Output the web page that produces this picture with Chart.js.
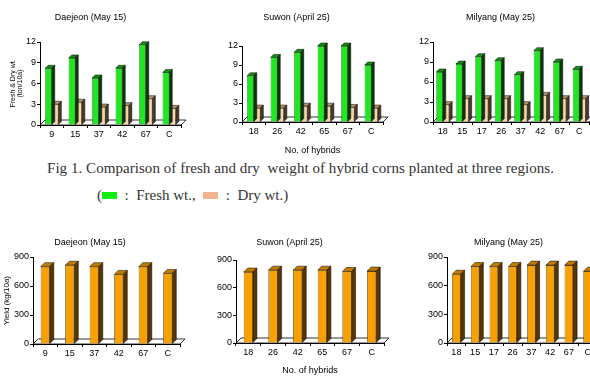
<!DOCTYPE html>
<html>
<head>
<meta charset="utf-8">
<script src="https://cdn.jsdelivr.net/npm/chart.js@4.4.0/dist/chart.umd.min.js"></script>
<style>
  html, body { margin: 0; padding: 0; background: #fff; overflow: hidden; width: 590px; height: 382px; position: relative; }
  .box { position: absolute; }
  .cap { position: absolute; font-family: "Liberation Serif", "DejaVu Serif", serif; color: #333; white-space: pre; }
  .sw { display: inline-block; width: 15px; height: 7px; vertical-align: 1px; }
</style>
</head>
<body>
<div class="box" style="left:0;top:0;width:194px;height:140px"><canvas id="freshDaejeon"></canvas></div>
<div class="box" style="left:210px;top:0;width:196px;height:160px"><canvas id="freshSuwon"></canvas></div>
<div class="box" style="left:412px;top:0;width:180px;height:140px"><canvas id="freshMilyang"></canvas></div>

<div class="cap" style="left:47px;top:160px;font-size:15px;letter-spacing:0.05px">Fig 1. Comparison of fresh and dry  weight of hybrid corns planted at three regions.</div>
<div class="cap" style="left:97px;top:187px;font-size:15px">(<span class="sw" style="background:#11ee11"></span>  :  Fresh wt.,  <span class="sw" style="background:#f2b48e"></span>  :  Dry wt.)</div>

<div class="box" style="left:0;top:225px;width:214px;height:135px"><canvas id="yieldDaejeon"></canvas></div>
<div class="box" style="left:195px;top:225px;width:240px;height:157px"><canvas id="yieldSuwon"></canvas></div>
<div class="box" style="left:420px;top:225px;width:212px;height:135px"><canvas id="yieldMilyang"></canvas></div>

<script>
// hybrid numbers per region
const daejeonHybrids = ["9", "15", "37", "42", "67", "C"];
const suwonHybrids = ["18", "26", "42", "65", "67", "C"];
const milyangHybrids = ["18", "15", "17", "26", "37", "42", "67", "C"];

// fresh and dry weight (ton/10a)
const daejeonFresh = [8.2, 9.7, 6.8, 8.2, 11.6, 7.6];
const daejeonDry = [3.0, 3.3, 2.6, 2.8, 3.8, 2.4];
const suwonFresh = [7.3, 10.2, 11.0, 12.0, 12.0, 9.0];
const suwonDry = [2.2, 2.2, 2.5, 2.5, 2.3, 2.2];
const milyangFresh = [7.5, 8.7, 9.8, 9.2, 7.1, 10.7, 9.0, 7.9];
const milyangDry = [2.6, 3.5, 3.5, 3.5, 2.6, 4.0, 3.5, 3.5];

// yield (kg/10a)
const daejeonYield = [800, 815, 800, 720, 800, 730];
const suwonYield = [770, 790, 790, 790, 775, 780];
const milyangYield = [720, 800, 800, 800, 815, 815, 815, 750];

const weightTicks = { max: 12, step: 3 };
const yieldTicks = { max: 900, step: 300 };

Chart.defaults.font.family = "'Liberation Sans', Arial, sans-serif";
Chart.defaults.font.size = 9;
Chart.defaults.color = "#000";

// fake 3D look: floor under the bars, top and side faces on each bar
const depth3d = {
  id: "depth3d",
  beforeDatasetsDraw(chart, args, opts) {
    const { ctx, chartArea: a } = chart;
    const d = opts.floor;
    ctx.save();
    ctx.beginPath();
    ctx.moveTo(a.left, a.bottom);
    ctx.lineTo(a.right, a.bottom);
    ctx.lineTo(a.right + d, a.bottom - d);
    ctx.lineTo(a.left + d, a.bottom - d);
    ctx.closePath();
    ctx.fillStyle = "#fff";
    ctx.fill();
    ctx.strokeStyle = "#000";
    ctx.lineWidth = 0.8;
    ctx.stroke();
    ctx.restore();
  },
  afterDatasetDraw(chart, args, opts) {
    const ds = chart.data.datasets[args.index];
    const d = opts.depth;
    const ctx = chart.ctx;
    ctx.save();
    ctx.strokeStyle = "#000";
    ctx.lineWidth = 0.5;
    args.meta.data.forEach((bar) => {
      const { x, y, base, width } = bar.getProps(["x", "y", "base", "width"], true);
      const l = x - width / 2;
      const r = x + width / 2;
      ctx.beginPath();
      ctx.moveTo(l, y);
      ctx.lineTo(l + d, y - d);
      ctx.lineTo(r + d, y - d);
      ctx.lineTo(r, y);
      ctx.closePath();
      ctx.fillStyle = ds.topColor;
      ctx.fill();
      ctx.stroke();
      ctx.beginPath();
      ctx.moveTo(r, y);
      ctx.lineTo(r + d, y - d);
      ctx.lineTo(r + d, base - d);
      ctx.lineTo(r, base);
      ctx.closePath();
      ctx.fillStyle = ds.sideColor;
      ctx.fill();
      ctx.stroke();
    });
    ctx.restore();
  },
};

function freshSets(fresh, dry) {
  return [
    { data: fresh, backgroundColor: "#1ee81e", borderColor: "#000", borderWidth: 0.5,
      topColor: "#129212", sideColor: "#0a3a0a" },
    { data: dry, backgroundColor: "#fbd5a8", borderColor: "#222", borderWidth: 0.5,
      topColor: "#b8926a", sideColor: "#4a3a28" },
  ];
}

function yieldSets(values) {
  return [
    { data: values, backgroundColor: "#f7a000", borderColor: "#000", borderWidth: 0.6,
      topColor: "#c07a00", sideColor: "#5a3500" },
  ];
}

function panel(id, p) {
  new Chart(document.getElementById(id), {
    type: "bar",
    data: { labels: p.labels, datasets: p.datasets },
    plugins: [depth3d],
    options: {
      responsive: true,
      maintainAspectRatio: false,
      animation: false,
      layout: { padding: { left: 0, right: p.padRight, top: 0, bottom: 0 } },
      datasets: { bar: { categoryPercentage: p.cat, barPercentage: 1 } },
      plugins: {
        legend: { display: false },
        tooltip: { enabled: false },
        title: {
          display: true,
          text: p.title,
          font: { size: 9, weight: "normal" },
          color: "#000",
          padding: { top: 12.6, bottom: p.titleGap },
        },
        depth3d: { depth: p.depth, floor: 5 },
      },
      scales: {
        x: {
          grid: { drawOnChartArea: false, tickLength: 3, color: "#000" },
          border: { color: "#000" },
          ticks: { padding: 1, autoSkip: false, maxRotation: 0, font: { size: 9 } },
          title: p.xTitle
            ? { display: true, text: p.xTitle, font: { size: 9 }, padding: { top: 0, bottom: p.xTitlePad } }
            : { display: false },
          afterFit(s) { s.height = p.axisH; },
        },
        y: {
          min: 0,
          max: p.ticks.max,
          grid: { drawOnChartArea: false, tickLength: 3, color: "#000" },
          border: { color: "#000" },
          ticks: { stepSize: p.ticks.step, padding: 1, font: { size: 9 } },
          title: p.yTitle
            ? { display: true, text: p.yTitle, font: { size: p.yTitleSize, lineHeight: 1 }, padding: { top: p.yTitlePad, bottom: 0 } }
            : { display: false },
          afterFit(s) { s.width = p.axisW; },
        },
      },
    },
  });
}

panel("freshDaejeon", {
  title: "Daejeon (May 15)", labels: daejeonHybrids, datasets: freshSets(daejeonFresh, daejeonDry),
  ticks: weightTicks, yTitle: ["Fresh & Dry wt.", "(ton/10a)"], yTitleSize: 7, yTitlePad: 9.5,
  axisW: 40, axisH: 15, padRight: 13, titleGap: 18.6, cat: 0.56, depth: 3,
});
panel("freshSuwon", {
  title: "Suwon (April 25)", labels: suwonHybrids, datasets: freshSets(suwonFresh, suwonDry),
  ticks: weightTicks, xTitle: "No. of hybrids", xTitlePad: 3.6,
  axisW: 32, axisH: 38, padRight: 23, titleGap: 22.6, cat: 0.56, depth: 3,
});
panel("freshMilyang", {
  title: "Milyang (May 25)", labels: milyangHybrids, datasets: freshSets(milyangFresh, milyangDry),
  ticks: weightTicks,
  axisW: 21, axisH: 18, padRight: 3, titleGap: 18.6, cat: 0.66, depth: 3,
});

panel("yieldDaejeon", {
  title: "Daejeon (May 15)", labels: daejeonHybrids, datasets: yieldSets(daejeonYield),
  ticks: yieldTicks, yTitle: "Yield (kg/10a)", yTitleSize: 8, yTitlePad: 3,
  axisW: 33, axisH: 16, padRight: 34, titleGap: 8.6, cat: 0.37, depth: 4,
});
panel("yieldSuwon", {
  title: "Suwon (April 25)", labels: suwonHybrids, datasets: yieldSets(suwonYield),
  ticks: yieldTicks, xTitle: "No. of hybrids", xTitlePad: 5.6,
  axisW: 41, axisH: 39, padRight: 51, titleGap: 11.6, cat: 0.37, depth: 4,
});
panel("yieldMilyang", {
  title: "Milyang (May 25)", labels: milyangHybrids, datasets: yieldSets(milyangYield),
  ticks: yieldTicks,
  axisW: 27, axisH: 17, padRight: 35, titleGap: 8.6, cat: 0.45, depth: 4,
});
</script>
</body>
</html>
